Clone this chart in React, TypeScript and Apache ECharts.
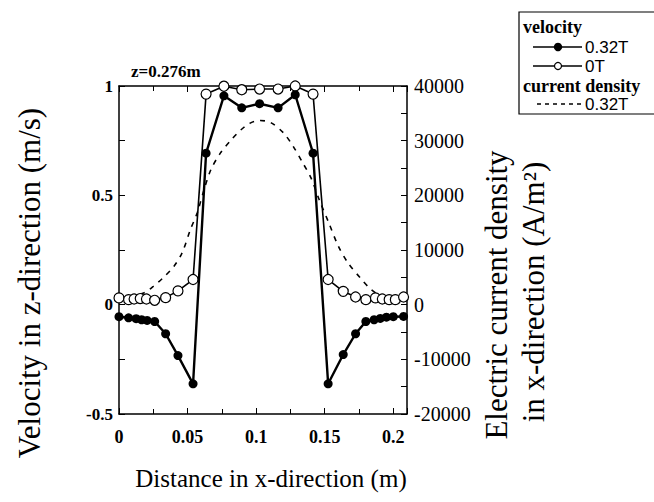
import React, { useEffect, useRef } from "react";
import * as echarts from "echarts";

// x positions (m) and velocities (m/s), B = 0.32T
const X_FILLED = [0, 0.007, 0.0125, 0.0165, 0.0205, 0.026, 0.034, 0.043, 0.054, 0.0635, 0.0765, 0.0895, 0.1025, 0.116, 0.1285, 0.1415, 0.1525, 0.1635, 0.1725, 0.18, 0.186, 0.1905, 0.195, 0.2, 0.2075];
const V_FILLED = [-0.055, -0.06, -0.064, -0.069, -0.072, -0.077, -0.133, -0.233, -0.362, 0.693, 0.955, 0.9, 0.919, 0.9, 0.96, 0.693, -0.362, -0.228, -0.133, -0.077, -0.069, -0.063, -0.057, -0.055, -0.054];

// B = 0T
const X_OPEN = [0, 0.007, 0.011, 0.0155, 0.02, 0.026, 0.034, 0.043, 0.054, 0.0635, 0.0765, 0.0895, 0.1025, 0.116, 0.1285, 0.1415, 0.1525, 0.1635, 0.1725, 0.18, 0.187, 0.192, 0.197, 0.2015, 0.2075];
const V_OPEN = [0.031, 0.023, 0.026, 0.028, 0.026, 0.02, 0.032, 0.063, 0.115, 0.963, 0.999, 0.983, 0.986, 0.986, 1.0, 0.963, 0.115, 0.061, 0.035, 0.023, 0.031, 0.026, 0.023, 0.023, 0.035];

// current density (A/m^2), B = 0.32T
const X_CURRENT = [0, 0.018, 0.025, 0.032, 0.04, 0.046, 0.052, 0.057, 0.062, 0.067, 0.074, 0.082, 0.089, 0.096, 0.103, 0.111, 0.12, 0.127, 0.134, 0.14, 0.146, 0.153, 0.16, 0.167, 0.176, 0.184, 0.192, 0.2075];
const J_CURRENT = [800, 2140, 3350, 4880, 7000, 9460, 13700, 16780, 21000, 24700, 27760, 30200, 32000, 33250, 33700, 33250, 31400, 28970, 25930, 23190, 19200, 14950, 10670, 7630, 4880, 2745, 1520, 800];

const SERIF = "'Liberation Serif', 'Times New Roman', serif";
const SANS = "'Liberation Sans', Arial, sans-serif";

function zip(xs: number[], ys: number[]) {
  return xs.map((x, i) => [x, ys[i]]);
}

export default function App() {
  const ref = useRef<HTMLDivElement>(null);

  useEffect(() => {
    if (!ref.current) return;
    const chart = echarts.init(ref.current, undefined, { renderer: "svg" });

    const axisLine = { show: true, onZero: false, lineStyle: { color: "#000", width: 1.5 } };
    const xCommon = {
      type: "value" as const,
      min: 0,
      max: 0.21,
      interval: 0.05,
      axisLine,
      axisTick: { show: true, inside: true, length: 6, lineStyle: { color: "#000", width: 1 } },
      minorTick: { show: true, splitNumber: 2, length: 5, lineStyle: { color: "#000", width: 1 } },
      splitLine: { show: false },
      minorSplitLine: { show: false },
    };

    chart.setOption({
      animation: false,
      backgroundColor: "#fff",
      grid: { left: 119, right: 247, top: 86, bottom: 88, containLabel: false },
      xAxis: [
        {
          ...xCommon,
          position: "bottom",
          axisLabel: {
            color: "#000",
            fontFamily: SERIF,
            fontWeight: "bold",
            fontSize: 18,
            margin: 14,
            showMaxLabel: false,
            formatter: (v: number) => String(parseFloat(v.toFixed(3))),
          },
        },
        {
          ...xCommon,
          position: "top",
          axisLabel: { show: false },
        },
      ],
      yAxis: [
        {
          type: "value",
          min: -0.5,
          max: 1,
          interval: 0.5,
          position: "left",
          axisLine,
          axisTick: { show: true, inside: true, length: 6, lineStyle: { color: "#000" } },
          minorTick: { show: true, splitNumber: 2, length: 6, lineStyle: { color: "#000" } },
          splitLine: { show: false },
          axisLabel: {
            color: "#000",
            fontFamily: SERIF,
            fontWeight: "bold",
            fontSize: 17,
            margin: 6,
            formatter: (v: number) => String(v),
          },
        },
        {
          type: "value",
          min: -20000,
          max: 40000,
          interval: 10000,
          position: "right",
          axisLine,
          axisTick: { show: true, inside: true, length: 6, lineStyle: { color: "#000" } },
          minorTick: { show: true, splitNumber: 2, length: 6, lineStyle: { color: "#000" } },
          splitLine: { show: false },
          axisLabel: {
            color: "#000",
            fontFamily: SERIF,
            fontSize: 20,
            margin: 7,
            formatter: (v: number) => String(v),
          },
        },
      ],
      series: [
        {
          name: "current density 0.32T",
          type: "line",
          xAxisIndex: 0,
          yAxisIndex: 1,
          data: zip(X_CURRENT, J_CURRENT),
          smooth: 0.3,
          showSymbol: false,
          symbol: "none",
          lineStyle: { color: "#000", width: 1.6, type: [5, 6] },
          z: 1,
        },
        {
          name: "velocity 0T",
          type: "line",
          data: zip(X_OPEN, V_OPEN),
          symbol: "circle",
          symbolSize: 10,
          lineStyle: { color: "#000", width: 1.6 },
          itemStyle: { color: "#fff", borderColor: "#000", borderWidth: 1.2 },
          z: 2,
        },
        {
          name: "velocity 0.32T",
          type: "line",
          data: zip(X_FILLED, V_FILLED),
          symbol: "circle",
          symbolSize: 9,
          lineStyle: { color: "#000", width: 2.4 },
          itemStyle: { color: "#000" },
          z: 3,
        },
      ],
      graphic: [
        {
          type: "text",
          left: 131,
          top: 63,
          style: { text: "z=0.276m", font: `bold 17px ${SERIF}`, fill: "#000" },
        },
        {
          type: "text",
          x: 29,
          y: 283,
          rotation: Math.PI / 2,
          style: {
            text: "Velocity in z-direction (m/s)",
            font: `31px ${SERIF}`,
            fill: "#000",
            align: "center",
            verticalAlign: "middle",
          },
        },
        {
          type: "text",
          x: 496,
          y: 295,
          rotation: Math.PI / 2,
          style: {
            text: "Electric current density",
            font: `31px ${SERIF}`,
            fill: "#000",
            align: "center",
            verticalAlign: "middle",
          },
        },
        {
          type: "text",
          x: 533,
          y: 292,
          rotation: Math.PI / 2,
          style: {
            text: "in x-direction (A/m²)",
            font: `31px ${SERIF}`,
            fill: "#000",
            align: "center",
            verticalAlign: "middle",
          },
        },
        {
          type: "text",
          x: 271,
          y: 478,
          style: {
            text: "Distance in x-direction (m)",
            font: `25px ${SERIF}`,
            fill: "#000",
            align: "center",
            verticalAlign: "middle",
          },
        },
        // legend box
        {
          type: "group",
          children: [
            { type: "rect", shape: { x: 519, y: 12, width: 140, height: 102 }, style: { fill: "#fff", stroke: "#000", lineWidth: 1.2 } },
            { type: "text", x: 523, y: 27, style: { text: "velocity", font: `bold 18px ${SERIF}`, fill: "#000", verticalAlign: "middle" } },
            { type: "line", shape: { x1: 533, y1: 47, x2: 582, y2: 47 }, style: { stroke: "#000", lineWidth: 1.6 } },
            { type: "circle", shape: { cx: 558, cy: 47, r: 4.2 }, style: { fill: "#000" } },
            { type: "text", x: 585, y: 47, style: { text: "0.32T", font: `17px ${SANS}`, fill: "#000", verticalAlign: "middle" } },
            { type: "line", shape: { x1: 533, y1: 66, x2: 582, y2: 66 }, style: { stroke: "#000", lineWidth: 1.6 } },
            { type: "circle", shape: { cx: 558, cy: 66, r: 3.5 }, style: { fill: "#fff", stroke: "#000", lineWidth: 1.2 } },
            { type: "text", x: 585, y: 66, style: { text: "0T", font: `17px ${SANS}`, fill: "#000", verticalAlign: "middle" } },
            { type: "text", x: 523, y: 86, style: { text: "current density", font: `bold 18px ${SERIF}`, fill: "#000", verticalAlign: "middle" } },
            { type: "line", shape: { x1: 537, y1: 104, x2: 582, y2: 104 }, style: { stroke: "#000", lineWidth: 1.3, lineDash: [4, 4] } },
            { type: "text", x: 585, y: 104, style: { text: "0.32T", font: `17px ${SANS}`, fill: "#000", verticalAlign: "middle" } },
          ],
        },
      ],
    });

    return () => chart.dispose();
  }, []);

  return (
    <div
      ref={ref}
      style={{ position: "fixed", left: 0, top: 0, width: 654, height: 502, background: "#fff" }}
    />
  );
}
